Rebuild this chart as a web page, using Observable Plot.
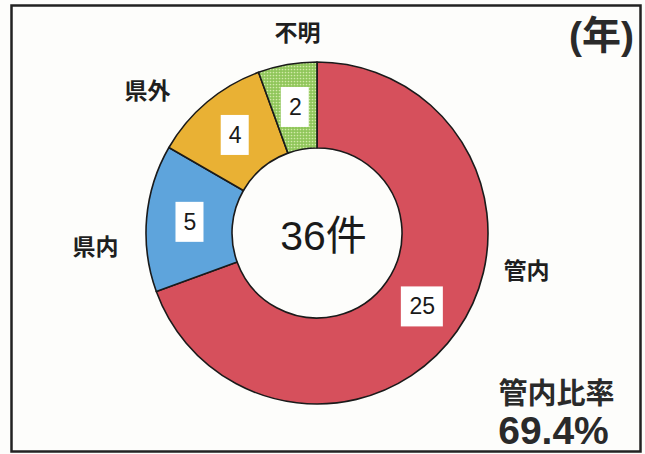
<!DOCTYPE html>
<html>
<head>
<meta charset="utf-8">
<script src="https://cdn.jsdelivr.net/npm/d3@7"></script>
<script src="https://cdn.jsdelivr.net/npm/@observablehq/plot@0.6"></script>
<style>
  html, body { margin: 0; padding: 0; background: #ffffff; }
  #chart svg { display: block; }
</style>
</head>
<body>
<div id="chart"></div>
<script>
// ---- data ----
const categories = ["管内", "県内", "県外", "不明"];
const counts = [25, 5, 4, 2];
const unitLabel = "(年)";
const totalSuffix = "件";
const ratioTitle = "管内比率";

// ---- layout (pixel units around the donut centre) ----
const rOuter = 171, rInner = 85, rLabel = 128;
const colors = {"管内": "#d6505c", "県内": "#5ea4dc", "県外": "#e9b134", "不明": "url(#dots)"};
const outsidePos = {"管内": [209, -38], "県内": [-222, -14], "県外": [-170, 142], "不明": [-20, 200]};

const total = d3.sum(counts);
const rows = categories.map((c, i) => ({category: c, value: counts[i]}));
const arcs = d3.pie().sort(null).value(d => d.value)(rows);
const centroid = d3.arc().innerRadius(rLabel).outerRadius(rLabel);
const boxes = arcs.map(a => {
  const [px, py] = centroid.centroid(a);
  const w = 14 + 14 * String(a.data.value).length;
  return {label: String(a.data.value), x: px, y: -py, x1: px - w / 2, x2: px + w / 2, y1: -py - 20, y2: -py + 20};
});
const outside = rows.map(r => ({label: r.category, x: outsidePos[r.category][0], y: outsidePos[r.category][1]}));
const ratio = (counts[0] / total * 100).toFixed(1) + "%";

const jp = "'Noto Sans CJK JP', sans-serif";
const latin = "'Liberation Sans', Arial, 'Noto Sans CJK JP', sans-serif";

// donut slices drawn through Plot's x/y scales
function donut(index, scales) {
  const cx = scales.x(0), cy = scales.y(0);
  const k = scales.x(1) - scales.x(0);
  const arc = d3.arc().innerRadius(rInner * k).outerRadius(rOuter * k);
  const g = d3.create("svg:g").attr("transform", `translate(${cx},${cy})`);
  g.selectAll("path").data(arcs).join("path")
    .attr("d", arc)
    .attr("fill", d => colors[d.data.category])
    .attr("stroke", "#1a1a1a")
    .attr("stroke-width", 1.6)
    .attr("stroke-linejoin", "round");
  return g.node();
}

const svg = Plot.plot({
  width: 645,
  height: 454,
  marginLeft: 11,
  marginRight: 5,
  marginTop: 5,
  marginBottom: 3,
  x: {domain: [-306, 323], axis: null},
  y: {domain: [-218, 228], axis: null},
  style: {background: "#fdfdfb", overflow: "visible"},
  marks: [
    Plot.frame({stroke: "#222", strokeWidth: 2.5}),
    donut,
    Plot.rect(boxes, {x1: "x1", x2: "x2", y1: "y1", y2: "y2", fill: "#ffffff"}),
    Plot.text(boxes, {x: "x", y: "y", text: "label", fontSize: 23, fill: "#1a1a1a", fontFamily: latin}),
    Plot.text(outside, {x: "x", y: "y", text: "label", fontSize: 23, fontWeight: "bold", fill: "#1f1f1f", fontFamily: jp}),
    Plot.text([`${total}${totalSuffix}`], {x: 6, y: -3, text: d => d, fontSize: 41, fill: "#1a1a1a", fontFamily: latin}),
    Plot.text([unitLabel], {x: 284, y: 197, text: d => d, fontSize: 39, fontWeight: "bold", fill: "#2a2a2a", fontFamily: latin}),
    Plot.text([ratioTitle], {x: 239, y: -161, text: d => d, fontSize: 29, fontWeight: "bold", fill: "#2a2a2a", fontFamily: jp}),
    Plot.text([ratio], {x: 236, y: -198, text: d => d, fontSize: 39, fontWeight: "bold", fill: "#2a2a2a", fontFamily: latin})
  ]
});

// dotted pattern for the green slice
const defs = d3.select(svg).insert("defs", ":first-child");
const pat = defs.append("pattern").attr("id", "dots").attr("width", 3).attr("height", 3).attr("patternUnits", "userSpaceOnUse");
pat.append("rect").attr("width", 3).attr("height", 3).attr("fill", "#8fc65a");
pat.append("circle").attr("cx", 1.5).attr("cy", 1.5).attr("r", 0.85).attr("fill", "#d2eaa8");

document.getElementById("chart").appendChild(svg);
</script>
</body>
</html>
